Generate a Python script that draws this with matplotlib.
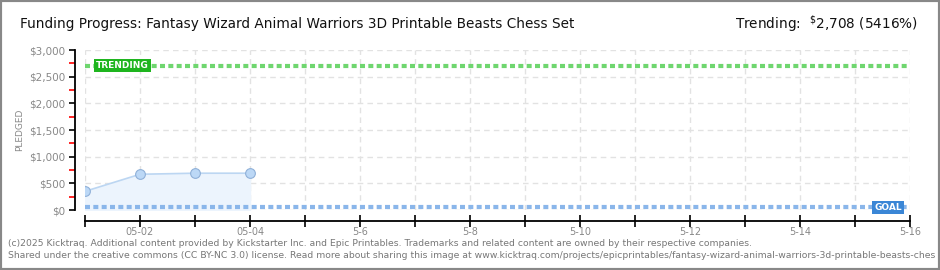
import matplotlib.pyplot as plt
import matplotlib.patches as patches
import numpy as np

# data
days = [1, 2, 3, 4]
pledged = [350, 670, 690, 690]
goal = 50
trending = 2708
tick_days = list(range(1, 17))
tick_labels = ['', '05-02', '', '05-04', '', '5-6', '', '5-8', '',
               '5-10', '', '5-12', '', '5-14', '', '5-16']
y_ticks = [0, 500, 1000, 1500, 2000, 2500, 3000]
y_labels = ['$0', '$500', '$1,000', '$1,500', '$2,000', '$2,500', '$3,000']

W, H = 940, 270
fig = plt.figure(figsize=(W / 100, H / 100), dpi=100)
ax = fig.add_axes([85 / W, (H - 210) / H, 825 / W, 160 / H])

grey = '#888888'

# grid
for v in y_ticks:
    ax.axhline(v, color='#e2e2e2', lw=1, ls=(0, (4, 3)), zorder=0)
for d in tick_days:
    ax.axvline(d, color='#e2e2e2', lw=1, ls=(0, (4, 3)), zorder=0)

# pledged series
ax.fill_between(days, pledged, 0, color='#ecf4fd', zorder=1)
ax.plot(days, pledged, color='#bcd6f2', lw=1.2, zorder=2)
ax.plot(days, pledged, 'o', ms=7, mfc='#bcd8f6', mec='#8fb0d8', mew=0.8, zorder=3)

# goal and trending lines
ax.axhline(goal, color='#8ab6ea', lw=3, ls=(0, (1.2, 0.8)), zorder=2)
ax.axhline(trending, color='#6fd66f', lw=3, ls=(0, (1.2, 0.8)), zorder=2)

ax.set_xlim(1, 16)
ax.set_ylim(0, 3000)

# axes styling
for s in ['top', 'right']:
    ax.spines[s].set_visible(False)
ax.spines['left'].set_position(('outward', 7))
ax.spines['bottom'].set_position(('outward', 8))
ax.spines['left'].set_bounds(0, 3000)
ax.spines['left'].set_linewidth(1.3)
ax.spines['bottom'].set_linewidth(1.3)

ax.set_xticks(tick_days)
ax.set_xticklabels(tick_labels)
ax.tick_params(axis='x', direction='inout', length=8, width=1.2, colors='black',
               labelcolor=grey, labelsize=7, pad=0)
ax.set_yticks(y_ticks)
ax.set_yticklabels(y_labels)
ax.tick_params(axis='y', direction='out', length=4, width=1.2, colors='black',
               labelcolor=grey, labelsize=7.5, pad=3)
ax.set_yticks(np.arange(250, 3000, 500), minor=True)
ax.tick_params(axis='y', which='minor', direction='out', length=4, width=1.2, colors='red')

fig.text(20 / W, 1 - 130 / H, 'PLEDGED', rotation=90, ha='center', va='center',
         color=grey, fontsize=6.5)

# labels on lines
ax.text(1.2, trending, 'TRENDING', color='white', fontsize=6.5, fontweight='bold',
        ha='left', va='center', zorder=5,
        bbox=dict(boxstyle='square,pad=0.25', fc='#1fb51f', ec='none'))
ax.text(15.85, goal, 'GOAL', color='white', fontsize=6.5, fontweight='bold',
        ha='right', va='center', zorder=5,
        bbox=dict(boxstyle='square,pad=0.25', fc='#3a86d6', ec='none'))

# header
fig.text(20 / W, 1 - 24 / H,
         'Funding Progress: Fantasy Wizard Animal Warriors 3D Printable Beasts Chess Set',
         ha='left', va='center', fontsize=9.8, color='#111111')
fig.text(918 / W, 1 - 24 / H, r'Trending:  $^{\$}$2,708 (5416%)',
         ha='right', va='center', fontsize=9.8, color='#111111')

# footer
fig.text(8 / W, 1 - 243 / H,
         '(c)2025 Kicktraq. Additional content provided by Kickstarter Inc. and Epic Printables. '
         'Trademarks and related content are owned by their respective companies.',
         ha='left', va='center', fontsize=6.7, color='#777777')
fig.text(8 / W, 1 - 256 / H,
         'Shared under the creative commons (CC BY-NC 3.0) license. Read more about sharing this '
         'image at www.kicktraq.com/projects/epicprintables/fantasy-wizard-animal-warriors-3d-printable-beasts-ches',
         ha='left', va='center', fontsize=6.7, color='#777777')

# frame
fig.patches.append(patches.Rectangle((0, 0), 1, 1, transform=fig.transFigure,
                                     fill=False, ec='#888888', lw=3))

fig.savefig('out.png', dpi=100)
